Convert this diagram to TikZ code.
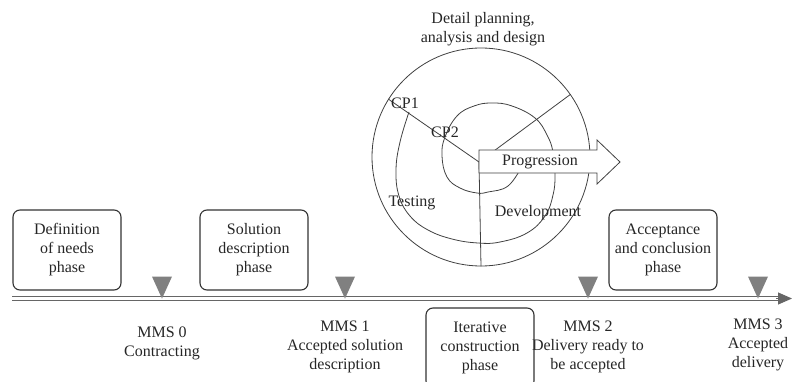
\documentclass[tikz,border=0pt]{standalone}
\usepackage{fontspec}
\setmainfont{Liberation Serif}
\usetikzlibrary{arrows.meta, positioning, shapes.geometric}

\begin{document}
\begin{tikzpicture}[x=1pt, y=-1pt, node distance=22pt,
    every node/.style={font=\fontsize{16}{19}\selectfont, text=black!85, align=center, inner sep=0pt},
    phase/.style={draw=black!80, line width=1.1pt, rounded corners=7pt, minimum width=108pt, minimum height=80pt},
    milestone/.style={isosceles triangle, isosceles triangle stretches, shape border rotate=-90,
                      fill=black!50, minimum width=20pt, minimum height=22pt},
    ring/.style={draw=black!75, line width=0.8pt}]

\useasboundingbox (0,0) rectangle (794,382);

% Spiral of the construction phase
\node[ring, circle, minimum size=218pt] (outer) at (481,157) {};
\coordinate (c) at (479,162);
\draw[ring] plot[smooth, tension=0.7] coordinates {(522,166) (508,186) (488,192) (477,193) (460,188)
    (447,177) (442,156) (445,137) (457,116) (474,106) (492,103) (512,106) (535,118) (547,135)
    (553,152) (555,175) (553,195) (545,216) (527,233) (500,242) (478,243) (452,239) (428,230)
    (410,216) (399,196) (396,170) (400,142) (409,112)};
\draw[ring] (c) -- (outer.148);
\draw[ring] (c) -- (outer.35);
\draw[ring] (c) -- (outer.south);

% Progression arrow
\draw[ring, fill=white] (479,150) -- (597,150) -- (597,140) -- (620,162) -- (597,184) -- (597,173) -- (479,173) -- cycle;
\node (prog) at (540,162) {Progression};

\node (dp) at (483,29) {Detail planning,\\analysis and design};
\node (cp1) at (405,103) {CP1};
\node (cp2) at (445,132) {CP2};
\node (test) at (412,203) {Testing};
\node (dev) at (538,213) {Development};

% Timeline
\coordinate (tl0) at (12,298.5);
\coordinate (tl1) at (792,298.5);
\draw[black!60, line width=1.2pt, double distance=2.8pt] (tl0) -- ([xshift=-12pt]tl1);
\draw[black!60, line width=1pt, -{Triangle[length=14pt, width=12pt]}] ([xshift=-16pt]tl1) -- (tl1);

% Milestones
\node[milestone] (m0) at (162,283) {};
\node[milestone] (m1) at (345,283) {};
\node[milestone] (m2) at (588,283) {};
\node[milestone] (m3) at (758,283) {};

\node (l0) [below=28pt of m0] {MMS 0\\Contracting};
\node (l1) [below=of m1] {MMS 1\\Accepted solution\\description};
\node (l2) [below=of m2] {MMS 2\\Delivery ready to\\be accepted};
\node (l3) [below=20pt of m3] {MMS 3\\Accepted\\delivery};

% Phases
\node[phase] (p0) at (67,250) {Definition\\of needs\\phase};
\node[phase] (p1) at (254,250) {Solution\\description\\phase};
\node[phase] (p2) at (480,348) {Iterative\\construction\\phase};
\node[phase] (p3) at (663,250) {Acceptance\\and conclusion\\phase};

\end{tikzpicture}
\end{document}
